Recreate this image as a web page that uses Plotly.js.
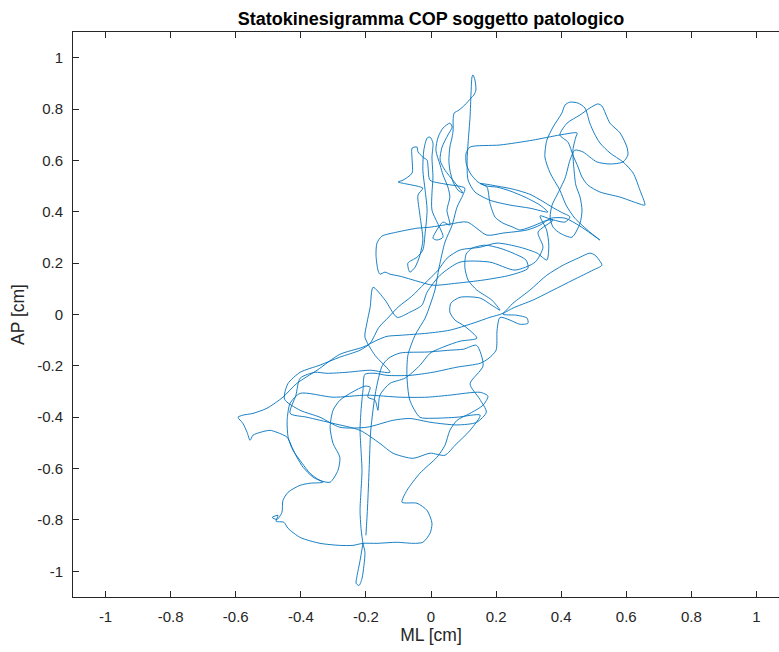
<!DOCTYPE html>
<html>
<head>
<meta charset="utf-8">
<script src="https://cdn.plot.ly/plotly-3.0.1.min.js"></script>
<style>
html,body{margin:0;padding:0;background:#fff;overflow:hidden;width:779px;height:652px;}
#chart{width:800px;height:652px;}
</style>
</head>
<body>
<div id="chart"></div>
<script>
// Centre-of-pressure trajectory (cm)
const mlCm = [
-0.209,-0.218,-0.227,-0.230,-0.221,-0.212,-0.206,-0.203,-0.209,-0.215,-0.218,-0.215,-0.212,-0.215,-0.218,-0.215,-0.209,-0.203,
-0.172,-0.135,-0.065,0.006,0.080,0.151,0.178,0.200,0.203,0.212,0.243,0.273,0.298,0.295,0.264,0.221,
0.252,0.313,0.375,0.436,0.498,0.525,0.504,0.488,0.458,0.406,0.356,0.304,0.252,0.221,
0.181,0.129,0.058,-0.012,-0.095,-0.135,-0.166,-0.209,-0.280,-0.350,-0.412,-0.455,-0.504,-0.547,-0.578,-0.593,-0.578,-0.565,-0.556,-0.547,-0.525,-0.495,
-0.473,-0.442,-0.427,-0.412,-0.393,-0.362,-0.332,-0.372,-0.402,-0.439,-0.455,-0.458,-0.473,-0.488,-0.470,-0.476,-0.452,-0.439,-0.402,-0.341,-0.280,-0.240,-0.209,-0.166,-0.104,-0.055,-0.025,-0.003,0.003,-0.012,-0.043,-0.089,
-0.074,-0.034,0.018,0.043,0.058,0.080,0.120,0.160,0.175,0.151,0.058,-0.012,-0.095,-0.197,-0.301,-0.402,-0.433,-0.442,-0.439,-0.424,-0.396,-0.372,-0.341,-0.310,
-0.286,-0.280,-0.301,-0.310,-0.301,-0.280,-0.243,-0.203,-0.187,-0.194,-0.172,-0.163,-0.157,-0.126,
-0.080,-0.034,-0.003,0.043,0.089,0.141,0.104,0.074,0.058,0.061,0.089,0.151,0.187,0.212,0.187,0.141,0.114,0.104,0.108,0.126,0.166,0.212,0.252,0.292,0.298,0.243,0.160,0.080,0.006,-0.043,-0.095,-0.126,-0.141,-0.157,-0.163,-0.169,-0.166,-0.151,-0.104,-0.043,-0.003,0.058,0.111,
0.172,0.221,0.295,0.335,0.369,0.412,0.458,0.519,0.488,0.442,0.415,0.396,
0.366,0.350,0.356,0.375,0.402,0.412,0.427,0.452,0.473,0.488,0.501,0.519,0.550,0.590,0.621,0.642,0.657,0.633,0.581,0.519,0.482,0.464,0.452,0.436,0.421,0.396,
0.418,0.458,0.488,0.513,0.525,0.550,0.581,0.602,0.605,0.590,0.550,0.510,0.488,0.467,0.442,0.427,0.412,0.387,0.372,0.366,0.375,0.396,0.433,0.458,0.464,0.458,0.445,0.439,0.436,0.445,0.449,
0.396,0.313,0.212,0.120,0.108,0.108,0.120,0.144,0.172,0.203,0.243,0.289,0.335,0.359,0.304,0.243,0.181,0.135,0.114,0.111,0.114,0.120,0.123,0.126,0.129,0.135,0.138,0.132,0.123,0.104,0.086,0.071,0.068,0.068,0.065,0.058,0.055,0.058,0.068,0.083,0.098,
0.043,0.028,0.034,0.052,0.065,0.058,0.037,0.022,0.015,0.028,0.037,0.052,0.058,0.049,0.058,0.037,0.018,0.006,0.018,0.037,
0.003,0.003,0.006,0.003,0.006,-0.003,-0.012,-0.022,-0.025,-0.018,-0.012,-0.018,-0.025,-0.043,-0.071,-0.065,-0.049,-0.034,-0.025,
-0.034,-0.040,-0.025,-0.043,-0.074,-0.101,-0.086,-0.058,-0.058,-0.058,-0.043,-0.040,-0.025,-0.012,-0.009,-0.003,
0.043,0.104,0.098,0.080,0.065,0.043,0.025,0.012,-0.003,-0.018,-0.049,-0.071,-0.074,-0.065,
-0.034,0.006,0.080,0.151,0.120,0.074,0.043,-0.003,-0.055,-0.117,-0.157,-0.218,-0.301,-0.381,-0.433,-0.415,-0.402,-0.356,-0.320,-0.258,-0.187,-0.126,
-0.172,-0.203,-0.197,-0.187,-0.178,-0.141,-0.104,-0.065,-0.028,-0.012,0.028,0.089,0.181,0.258,0.320,0.344,0.329,
0.375,0.356,0.335,0.304,0.273,0.252,0.221,0.197,0.181,0.172,
0.151,0.203,0.252,0.304,0.344,0.375,0.402,0.427,0.412,0.366,0.335,
0.355,0.362,0.356,0.326,0.273,0.203,0.151,0.089,
0.050,0.020,-0.020,-0.060,-0.100,-0.130,-0.160,-0.187,-0.218,-0.280,-0.341,-0.402,-0.440,-0.450,
-0.402,-0.341,-0.280,-0.197,-0.117,-0.065,0.000,0.080,0.140,0.170,0.150,
0.120,0.160,0.140,0.100,0.058,-0.012,-0.095,-0.130,-0.150,
-0.170,-0.185,-0.190,-0.195,-0.200
];
const apCm = [
-0.891,-0.958,-1.016,-1.047,-1.055,-1.028,-0.977,-0.926,-0.891,-0.833,-0.763,-0.685,-0.607,-0.529,-0.451,-0.373,-0.295,-0.233,
-0.229,-0.237,-0.237,-0.225,-0.205,-0.190,-0.170,-0.139,-0.061,-0.011,-0.022,-0.038,-0.034,-0.014,-0.003,0.001,
0.025,0.056,0.095,0.134,0.173,0.192,0.231,0.239,0.223,0.192,0.153,0.095,0.044,0.005,
-0.011,-0.034,-0.061,-0.073,-0.081,-0.085,-0.100,-0.127,-0.155,-0.217,-0.268,-0.322,-0.365,-0.385,-0.392,-0.400,-0.424,-0.459,-0.490,-0.470,-0.459,-0.451,
-0.459,-0.478,-0.517,-0.556,-0.595,-0.634,-0.653,-0.657,-0.665,-0.692,-0.724,-0.770,-0.798,-0.790,-0.782,-0.805,-0.809,-0.833,-0.868,-0.891,-0.899,-0.899,-0.891,-0.891,-0.887,-0.891,-0.887,-0.852,-0.813,-0.763,-0.735,-0.731,
-0.685,-0.618,-0.556,-0.509,-0.451,-0.412,-0.385,-0.353,-0.318,-0.303,-0.314,-0.322,-0.322,-0.314,-0.322,-0.307,-0.346,-0.412,-0.478,-0.529,-0.579,-0.618,-0.646,-0.653,
-0.607,-0.556,-0.502,-0.439,-0.373,-0.334,-0.303,-0.279,-0.283,-0.322,-0.334,-0.373,-0.314,-0.268,
-0.248,-0.198,-0.151,-0.124,-0.104,-0.092,-0.046,-0.022,0.009,0.044,0.067,0.064,0.036,0.017,0.056,0.095,0.134,0.184,0.235,0.258,0.270,0.258,0.239,0.212,0.180,0.153,0.134,0.122,0.114,0.130,0.149,0.157,0.165,0.157,0.173,0.231,0.278,0.305,0.321,0.336,0.340,0.352,0.360,
0.309,0.317,0.329,0.348,0.375,0.375,0.344,0.290,0.321,0.375,0.426,0.484,
0.551,0.613,0.679,0.730,0.784,0.816,0.827,0.823,0.804,0.745,0.707,0.668,0.629,0.594,0.551,0.484,0.426,0.434,0.457,0.477,0.504,0.535,0.574,0.621,0.671,0.699,
0.745,0.777,0.804,0.820,0.812,0.745,0.707,0.652,0.621,0.594,0.586,0.594,0.613,0.633,0.640,0.601,0.531,0.465,0.426,0.379,0.340,0.317,0.301,0.356,0.406,0.457,0.504,0.570,0.640,0.691,0.707,
0.699,0.679,0.660,0.652,0.629,0.590,0.551,0.516,0.500,0.496,0.481,0.457,0.426,0.399,0.414,0.426,0.445,0.477,0.523,0.601,0.668,0.769,0.862,0.925,0.933,0.913,0.874,0.855,0.843,0.816,0.796,0.784,0.757,0.718,0.691,0.652,0.601,0.562,0.516,0.484,0.473,
0.562,0.601,0.652,0.699,0.730,0.745,0.726,0.691,0.640,0.582,0.543,0.496,0.457,0.406,0.348,0.360,0.329,0.297,0.290,0.301,
0.406,0.473,0.535,0.613,0.668,0.691,0.687,0.640,0.562,0.484,0.406,0.317,0.251,0.223,0.200,0.165,0.184,0.231,0.290,
0.387,0.465,0.492,0.500,0.508,0.516,0.523,0.551,0.601,0.648,0.652,0.633,0.613,0.601,0.574,0.523,
0.508,0.492,0.465,0.418,0.348,0.282,0.184,0.095,0.036,-0.014,-0.081,-0.159,-0.237,-0.334,
-0.400,-0.404,-0.400,-0.392,-0.451,-0.509,-0.548,-0.540,-0.560,-0.540,-0.502,-0.451,-0.424,-0.400,-0.385,-0.314,-0.248,-0.225,-0.229,-0.225,-0.217,-0.225,
-0.159,-0.088,-0.034,0.028,0.106,0.056,-0.011,0.009,0.036,0.087,0.153,0.204,0.204,0.173,0.204,0.262,0.321,
0.367,0.367,0.356,0.340,0.329,0.340,0.356,0.379,0.434,0.496,
0.510,0.500,0.488,0.468,0.440,0.416,0.397,0.380,0.360,0.372,0.384,
0.330,0.270,0.212,0.239,0.262,0.278,0.262,0.251,
0.220,0.170,0.120,0.070,0.030,-0.010,-0.050,-0.112,-0.139,-0.166,-0.197,-0.225,-0.270,-0.330,
-0.373,-0.400,-0.439,-0.439,-0.412,-0.405,-0.420,-0.430,-0.420,-0.380,-0.330,
-0.270,-0.200,-0.120,-0.135,-0.139,-0.146,-0.150,-0.170,-0.200,
-0.300,-0.450,-0.600,-0.750,-0.860
];
const tickValues = [-1,-0.8,-0.6,-0.4,-0.2,0,0.2,0.4,0.6,0.8,1];
const tickLabels = ['-1','-0.8','-0.6','-0.4','-0.2','0','0.2','0.4','0.6','0.8','1'];

const axisColor = '#262626';
const fontFam = 'Liberation Sans, Arial, Helvetica, sans-serif';
const baseAxis = {
  range: [-1.1, 1.1],
  tickmode: 'array', tickvals: tickValues, ticktext: tickLabels,
  ticks: 'inside', ticklen: 6, tickwidth: 1, tickcolor: axisColor,
  showline: true, linecolor: axisColor, linewidth: 1, mirror: 'ticks',
  showgrid: false, zeroline: false,
  tickfont: {family: fontFam, size: 15, color: axisColor},
  ticklabelstandoff: 6
};

const trace = {
  x: mlCm, y: apCm, type: 'scatter', mode: 'lines',
  line: {color: '#0072BD', width: 0.9, shape: 'spline', smoothing: 0.7},
  hoverinfo: 'skip'
};

const layout = {
  width: 800, height: 652,
  margin: {l: 73, r: 11, t: 32, b: 55},
  paper_bgcolor: '#ffffff', plot_bgcolor: '#ffffff',
  showlegend: false,
  title: {text: '<b>Statokinesigramma COP soggetto patologico</b>',
          font: {family: fontFam, size: 18, color: '#000000'},
          x: 0.5, xref: 'paper', y: 0.972, yref: 'container', yanchor: 'middle'},
  xaxis: Object.assign({}, baseAxis, {
    title: {text: 'ML [cm]', font: {family: fontFam, size: 17.5, color: axisColor}, standoff: 3}
  }),
  yaxis: Object.assign({}, baseAxis, {
    title: {text: 'AP [cm]', font: {family: fontFam, size: 17.5, color: axisColor}, standoff: 8}
  })
};

Plotly.newPlot('chart', [trace], layout, {displayModeBar: false, staticPlot: true});
</script>
</body>
</html>
